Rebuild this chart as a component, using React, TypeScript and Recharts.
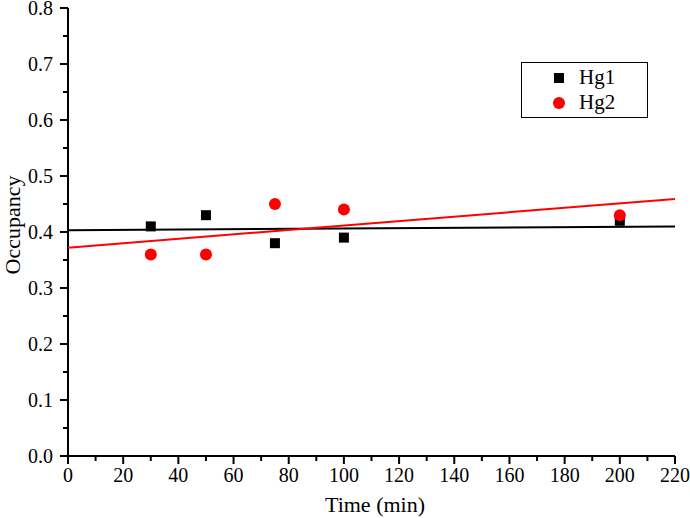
import React from "react";
import { ComposedChart, Scatter, XAxis, YAxis } from "recharts";

const hg1Time = [30, 50, 75, 100, 200];
const hg1Occupancy = [0.41, 0.43, 0.38, 0.39, 0.42];
const hg2Time = [30, 50, 75, 100, 200];
const hg2Occupancy = [0.36, 0.36, 0.45, 0.44, 0.43];

// linear fit lines (end points at t = 0 and t = 220)
const fitTime = [0, 220];
const hg1Fit = [0.403, 0.41];
const hg2Fit = [0.372, 0.459];

const xTicks = [0, 10, 20, 30, 40, 50, 60, 70, 80, 90, 100, 110, 120, 130, 140, 150, 160, 170, 180, 190, 200, 210, 220];
const yTicks = [0, 0.05, 0.1, 0.15, 0.2, 0.25, 0.3, 0.35, 0.4, 0.45, 0.5, 0.55, 0.6, 0.65, 0.7, 0.75, 0.8];

const FONT = "'Liberation Serif', 'Times New Roman', serif";

const toPoints = (xs: number[], ys: number[]) => xs.map((x, i) => ({ x, y: ys[i] }));

const hg1Data = toPoints(hg1Time, hg1Occupancy);
const hg2Data = toPoints(hg2Time, hg2Occupancy);
const hg1FitData = toPoints(fitTime, hg1Fit);
const hg2FitData = toPoints(fitTime, hg2Fit);

const SquareDot = (props: any) => {
  const { cx, cy } = props;
  if (cx == null || cy == null) return null;
  return <rect x={cx - 5} y={cy - 5} width={10} height={10} fill="#000" />;
};

const RoundDot = (props: any) => {
  const { cx, cy } = props;
  if (cx == null || cy == null) return null;
  return <circle cx={cx} cy={cy} r={6} fill="#ff0000" />;
};

const NoDot = () => null;

const XTick = (props: any) => {
  const { x, y, payload } = props;
  const v = payload.value as number;
  const major = v % 20 === 0;
  return (
    <g>
      <line x1={x} x2={x} y1={y} y2={y + (major ? 8 : 5)} stroke="#000" strokeWidth={2} />
      {major && (
        <text x={x} y={y + 26} textAnchor="middle" fontFamily={FONT} fontSize={20} fill="#000">
          {v}
        </text>
      )}
    </g>
  );
};

const YTick = (props: any) => {
  const { x, y, payload } = props;
  const v = payload.value as number;
  const major = Math.round(v * 100) % 10 === 0;
  return (
    <g>
      <line x1={x} x2={x - (major ? 8 : 5)} y1={y} y2={y} stroke="#000" strokeWidth={2} />
      {major && (
        <text x={x - 15} y={y + 7} textAnchor="end" fontFamily={FONT} fontSize={20} fill="#000">
          {v.toFixed(1)}
        </text>
      )}
    </g>
  );
};

const YLabel = () => (
  <text
    x={12}
    y={225}
    transform="rotate(-90 12 225)"
    textAnchor="middle"
    dominantBaseline="central"
    fontFamily={FONT}
    fontSize={22}
    fill="#000"
  >
    Occupancy
  </text>
);

const XLabel = () => (
  <text x={375} y={512} textAnchor="middle" fontFamily={FONT} fontSize={22} fill="#000">
    Time (min)
  </text>
);

const LegendBox = () => (
  <div
    style={{
      position: "absolute",
      left: 521,
      top: 62,
      width: 127,
      height: 56,
      border: "1px solid #000",
      boxSizing: "border-box",
      fontFamily: FONT,
      fontSize: 21,
      background: "#fff",
    }}
  >
    <div style={{ position: "absolute", left: 32, top: 10, width: 10, height: 10, background: "#000" }} />
    <div style={{ position: "absolute", left: 57, top: 2, lineHeight: "24px" }}>Hg1</div>
    <div
      style={{ position: "absolute", left: 31, top: 34, width: 12, height: 12, borderRadius: 6, background: "#ff0000" }}
    />
    <div style={{ position: "absolute", left: 57, top: 27, lineHeight: "24px" }}>Hg2</div>
  </div>
);

export default function App() {
  return (
    <div style={{ position: "absolute", left: 0, top: 0, width: 690, height: 518, background: "#fff" }}>
      <ComposedChart width={690} height={518} margin={{ top: 8, right: 15, left: 0, bottom: 0 }}>
        <XAxis
          type="number"
          dataKey="x"
          domain={[0, 220]}
          ticks={xTicks}
          interval={0}
          tickSize={0}
          tickMargin={0}
          tickLine={false}
          tick={<XTick />}
          height={62}
          axisLine={{ stroke: "#000", strokeWidth: 2 }}
          label={<XLabel />}
        />
        <YAxis
          type="number"
          dataKey="y"
          domain={[0, 0.8]}
          ticks={yTicks}
          interval={0}
          tickSize={0}
          tickMargin={0}
          tickLine={false}
          tick={<YTick />}
          width={68}
          axisLine={{ stroke: "#000", strokeWidth: 2 }}
          label={<YLabel />}
        />
        <Scatter
          name="Hg1 fit"
          data={hg1FitData}
          line={{ stroke: "#000", strokeWidth: 2 }}
          lineType="joint"
          shape={<NoDot />}
          isAnimationActive={false}
        />
        <Scatter
          name="Hg2 fit"
          data={hg2FitData}
          line={{ stroke: "#ff0000", strokeWidth: 2 }}
          lineType="joint"
          shape={<NoDot />}
          isAnimationActive={false}
        />
        <Scatter name="Hg1" data={hg1Data} shape={<SquareDot />} isAnimationActive={false} />
        <Scatter name="Hg2" data={hg2Data} shape={<RoundDot />} isAnimationActive={false} />
      </ComposedChart>
      <LegendBox />
    </div>
  );
}
